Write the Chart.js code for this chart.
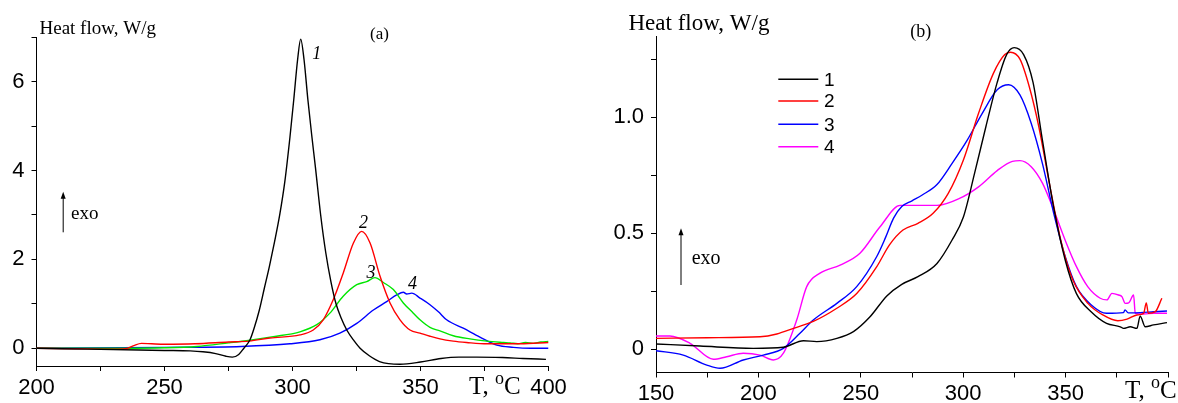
<!DOCTYPE html>
<html>
<head>
<meta charset="utf-8">
<script src="https://cdn.jsdelivr.net/npm/chart.js@4.4.0/dist/chart.umd.min.js"></script>
<style>
html,body{margin:0;padding:0;background:#fff;}
#wrap{position:relative;width:1178px;height:403px;overflow:hidden;}
#ca{position:absolute;left:0;top:0;}
#cb{position:absolute;left:590px;top:0;}
</style>
</head>
<body>
<div id="wrap">
<canvas id="ca" width="590" height="403"></canvas>
<canvas id="cb" width="588" height="403"></canvas>
</div>
<script>
// ---------- Panel (a) data ----------
const tA1 = [200,220,240,250,260,265,270,274,276.5,279,281,283.4,285,287,289,291,293,295,297,299,300.5,302,303.2,304.5,306,307.5,309,311,313,315,317,319,321.2,324,326.4,330,334,342,350,358,365,372,382,390,399];
const vA1 = [0,-0.02,-0.04,-0.05,-0.06,-0.08,-0.12,-0.18,-0.2,-0.14,0,0.19,0.45,0.85,1.35,1.85,2.4,3.0,3.75,4.75,5.6,6.5,6.96,6.5,5.6,4.8,4.05,3.0,2.15,1.5,1.0,0.68,0.41,0.17,0,-0.17,-0.3,-0.36,-0.31,-0.23,-0.2,-0.2,-0.21,-0.23,-0.25];

const tA2 = [200,215,230,235,238,241,245,250,262,275,283,291.2,302.9,308.1,312,315.9,319.8,323.8,327,330.3,334.2,338.1,342,345.9,349.8,353.7,357.6,362.8,368,376,389,400];
const vA2 = [0,-0.01,-0.02,-0.01,0.06,0.11,0.1,0.09,0.1,0.14,0.16,0.23,0.3,0.41,0.64,1.09,1.69,2.37,2.63,2.37,1.62,1.02,0.64,0.41,0.34,0.27,0.21,0.16,0.13,0.1,0.1,0.13];

const tA3 = [200,230,250,262.6,275,283.4,292.5,302.9,309.5,314.6,319.8,325.1,329,332.2,335.5,339.4,343.3,347.2,349.8,353.7,357.6,362.8,369.3,375.9,382.4,385,388,391,394,397,400];
const vA3 = [0,0,0.01,0.04,0.12,0.18,0.26,0.37,0.53,0.79,1.17,1.43,1.5,1.59,1.48,1.32,1.02,0.79,0.64,0.47,0.39,0.28,0.21,0.16,0.13,0.12,0.1,0.13,0.11,0.14,0.15];

const tA4 = [200,250,280,299,310.7,318.5,325.1,331.6,336.8,340.7,343.3,344.6,346.6,349.8,353.7,357,360.2,366.7,373.2,379.8,386.3,393,400];
const vA4 = [0,0.02,0.04,0.1,0.19,0.34,0.56,0.86,1.05,1.2,1.26,1.22,1.24,1.13,0.98,0.82,0.64,0.45,0.25,0.07,0.02,0,0];

const xTicksA = [200,225,250,275,300,325,350,375,400];
const xLabelsA = [200,250,300,350,400];
const yTicksA = [0,1,2,3,4,5,6,7];
const yLabelsA = [0,2,4,6];
const curveLabelsA = ['1','2','3','4'];
const curveLabelPosA = [[309.5,6.62],[327.7,2.81],[330.7,1.68],[346.9,1.43]];

// ---------- Panel (b) data ----------
const tB1 = [150,171.5,197.5,212.2,222,228.5,238.3,246.4,254.5,262.7,270,277.9,287.2,294.5,300.1,305.6,311.1,316.6,321.2,324.9,329.5,334.1,338.7,344.2,349.8,355.3,362.7,370,376.7,378.3,381.6,384.8,386.4,388.9,392.9,399.5];
const vB1 = [0.023,0.014,0.004,0.009,0.037,0.033,0.047,0.076,0.14,0.23,0.28,0.313,0.37,0.47,0.57,0.76,0.96,1.15,1.27,1.30,1.27,1.15,0.90,0.61,0.385,0.24,0.16,0.112,0.097,0.09,0.097,0.09,0.143,0.097,0.105,0.115];

const tB2 = [150,175,200.8,209,217.1,226.8,238.3,248,257.8,264,270.6,277.9,285.3,292.7,300.1,307.5,314.8,320.3,323.1,327.7,332.3,336.9,342.4,348,353.5,360.9,368.2,375.5,380,384.8,388.1,389.4,390.4,393.8,397];
const vB2 = [0.047,0.05,0.054,0.066,0.09,0.12,0.177,0.24,0.356,0.45,0.514,0.543,0.586,0.672,0.816,1.017,1.19,1.27,1.28,1.25,1.13,0.96,0.70,0.457,0.30,0.198,0.148,0.123,0.13,0.148,0.155,0.2,0.155,0.162,0.22];

const tB3 = [150,163.3,174.8,181.3,192.6,202.4,212.2,220.3,226.8,238.3,248,257.8,262,266,270,275,280,287.2,294.5,301.9,309.3,316.6,322.2,327.7,333.2,338.7,344.2,349.8,355.3,362.7,370,378.3,379,380.6,386.4,393,399.5];
const vB3 = [-0.006,-0.025,-0.068,-0.082,-0.046,-0.025,0.004,0.069,0.126,0.198,0.27,0.40,0.48,0.565,0.615,0.64,0.665,0.71,0.80,0.90,1.017,1.118,1.14,1.096,0.974,0.80,0.586,0.40,0.27,0.19,0.155,0.158,0.17,0.157,0.158,0.162,0.165];

const tB4 = [150,156.8,166.6,178,184.5,192.6,200.8,207.3,212.2,218.7,223.6,230.1,239.9,249.6,259.4,269.2,277.9,287.2,298.2,307.5,316.6,324,327.7,333.2,338.7,344.2,349.8,355.3,360.8,366.9,370.2,372.6,375.9,377.5,379.1,380.8,383.2,384,388.1,393,399.5];
const vB4 = [0.057,0.057,0.026,-0.043,-0.032,-0.017,-0.025,-0.046,-0.017,0.126,0.27,0.328,0.363,0.414,0.528,0.62,0.62,0.62,0.65,0.70,0.77,0.81,0.813,0.787,0.716,0.60,0.47,0.356,0.27,0.22,0.213,0.241,0.234,0.227,0.198,0.2,0.234,0.155,0.152,0.155,0.155];

const xTicksB = [150,175,200,225,250,275,300,325,350,375,400];
const xLabelsB = [150,200,250,300,350];
const yTicksB = [0,0.25,0.5,0.75,1.0,1.25];
const yLabelsB = [0,0.5,1.0];
const legendLabelsB = ['1','2','3','4'];

const colA = ['#000000','#ff0000','#00e600','#0000ff'];
const colB = ['#000000','#ff0000','#0000ff','#ff00ff'];

const SANS = '"Liberation Sans", Arial, sans-serif';
const SERIF = '"Liberation Serif", "Times New Roman", serif';

function pts(t,v){return t.map((x,i)=>({x:x,y:v[i]}));}
function ds(t,v,c){return {data:pts(t,v),borderColor:c,backgroundColor:c,borderWidth:1.4,pointRadius:0,showLine:true,fill:false,cubicInterpolationMode:'monotone'};}

function arrow(ctx,x,yTip,yBot){
  ctx.beginPath();ctx.moveTo(x,yBot);ctx.lineTo(x,yTip+4);ctx.lineWidth=1;ctx.strokeStyle='#000';ctx.stroke();
  ctx.beginPath();ctx.moveTo(x,yTip);ctx.lineTo(x-2.5,yTip+7);ctx.lineTo(x+2.5,yTip+7);ctx.closePath();ctx.fillStyle='#000';ctx.fill();
}
function tempLabel(ctx,x,y,size){
  ctx.font=size+'px '+SERIF;ctx.textBaseline='alphabetic';ctx.textAlign='left';
  ctx.fillText('T, ',x,y);
  let w=ctx.measureText('T, ').width;
  ctx.font=Math.round(size*0.7)+'px '+SERIF;
  ctx.fillText('o',x+w,y-size*0.42);
  let w2=ctx.measureText('o').width;
  ctx.font=size+'px '+SERIF;
  ctx.fillText('C',x+w+w2,y);
}

function axisOpts(min,max,ticks,labels,fmt,font,pad,fixed,isX){
  return {
    type:'linear',min:min,max:max,
    afterBuildTicks:(s)=>{s.ticks=ticks.map(v=>({value:v}));},
    afterFit:(s)=>{ if(isX) s.height=fixed; else s.width=fixed; },
    ticks:{autoSkip:false,maxRotation:0,color:'#000',font:{family:SANS,size:font},padding:pad,
      callback:(v)=>labels.some(l=>Math.abs(l-v)<1e-9)?fmt(v):''},
    grid:{display:true,drawOnChartArea:false,drawTicks:true,tickLength:5,color:'#000',lineWidth:1},
    border:{display:true,color:'#000',width:1}
  };
}

const annotA = {id:'annotA',afterDraw(chart){
  const c=chart.ctx,xs=chart.scales.x,ys=chart.scales.y;
  c.save();c.fillStyle='#000';
  c.font='19px '+SERIF;c.textBaseline='middle';c.textAlign='left';
  c.fillText('Heat flow, W/g',39.5,29);
  c.font='17px '+SERIF;c.textAlign='center';
  c.fillText('(a)',379.5,35);
  c.textAlign='left';
  c.font='19px '+SERIF;
  c.fillText('exo',71,214);
  arrow(c,63.2,191.7,232.3);
  c.fillStyle='#000';
  c.font='italic 18px '+SERIF;c.textAlign='center';c.textBaseline='middle';
  curveLabelsA.forEach((s,i)=>{c.fillText(s,xs.getPixelForValue(curveLabelPosA[i][0]),ys.getPixelForValue(curveLabelPosA[i][1]));});
  tempLabel(c,469,394,25);
  c.restore();
}};

const annotB = {id:'annotB',afterDraw(chart){
  const c=chart.ctx;
  c.save();c.fillStyle='#000';
  c.font='23px '+SERIF;c.textBaseline='middle';c.textAlign='left';
  c.fillText('Heat flow, W/g',38.5,24);
  c.font='18px '+SERIF;c.textAlign='center';
  c.fillText('(b)',330.7,32.3);
  c.textAlign='left';
  c.font='20px '+SERIF;
  c.fillText('exo',101.7,258.3);
  arrow(c,91,228.3,285);
  const ly=[79.3,101,124.3,146.7];
  legendLabelsB.forEach((s,i)=>{
    c.beginPath();c.moveTo(188.3,ly[i]);c.lineTo(228.3,ly[i]);c.strokeStyle=chart.data.datasets[i].borderColor;c.lineWidth=1.4;c.stroke();
    c.fillStyle='#000';c.font='19px '+SANS;c.textAlign='left';c.textBaseline='middle';
    c.fillText(s,234,ly[i]+1);
  });
  c.fillStyle='#000';
  tempLabel(c,535,398,25);
  c.restore();
}};

new Chart(document.getElementById('ca'),{
  type:'scatter',
  data:{datasets:[ds(tA1,vA1,colA[0]),ds(tA2,vA2,colA[1]),ds(tA3,vA3,colA[2]),ds(tA4,vA4,colA[3])]},
  options:{responsive:false,animation:false,devicePixelRatio:1,
    layout:{padding:{left:0,right:41.5,top:37.3,bottom:0}},
    plugins:{legend:{display:false},tooltip:{enabled:false}},
    scales:{
      x:axisOpts(200,400,xTicksA,xLabelsA,v=>String(v),22,4,37,true),
      y:axisOpts(-0.4,7,yTicksA,yLabelsA,v=>String(v),22,7,36.5,false)
    }},
  plugins:[annotA]
});

new Chart(document.getElementById('cb'),{
  type:'scatter',
  data:{datasets:[ds(tB1,vB1,colB[0]),ds(tB2,vB2,colB[1]),ds(tB3,vB3,colB[2]),ds(tB4,vB4,colB[3])]},
  options:{responsive:false,animation:false,devicePixelRatio:1,
    layout:{padding:{left:0,right:10,top:36,bottom:0}},
    plugins:{legend:{display:false},tooltip:{enabled:false}},
    scales:{
      x:axisOpts(150,400,xTicksB,xLabelsB,v=>String(v),22,3,30.5,true),
      y:axisOpts(-0.1,1.35,yTicksB,yLabelsB,v=>(v===0?'0':v.toFixed(1)),22,7,66,false)
    }},
  plugins:[annotB]
});
</script>
</body>
</html>
